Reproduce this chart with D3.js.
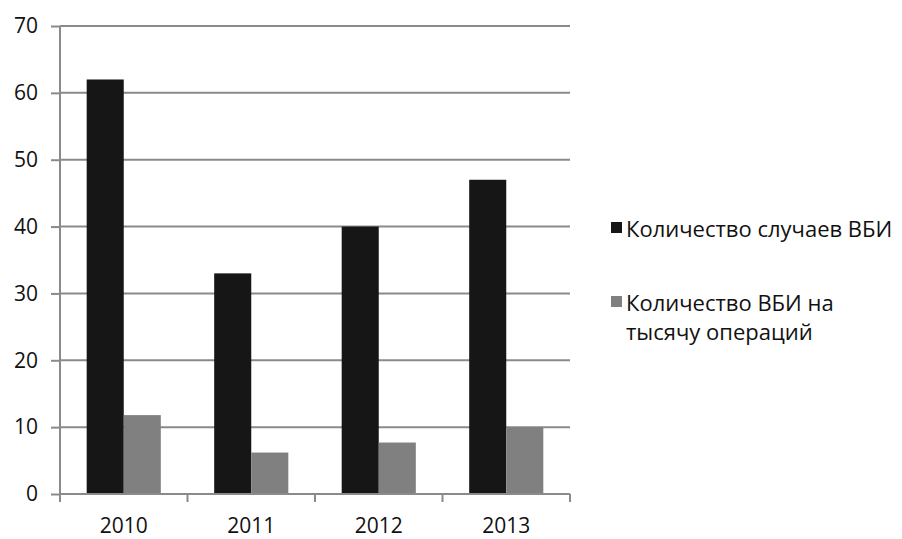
<!DOCTYPE html>
<html>
<head>
<meta charset="utf-8">
<script src="https://cdn.jsdelivr.net/npm/d3@7"></script>
<style>
  body { margin: 0; background: #fff; }
  svg { display: block; }
  text { font-family: "Open Sans", "DejaVu Sans", sans-serif; fill: #111; }
</style>
</head>
<body>
<svg id="chart" width="902" height="539"></svg>
<script>
// Years on the category axis
const years = ["2010", "2011", "2012", "2013"];
// Number of infection cases per year
const cases = [62, 33, 40, 47];
// Infections per thousand operations
const perThousand = [11.8, 6.2, 7.7, 10];
// Legend entries (second one wraps on two lines)
const seriesNames = [["Количество случаев ВБИ"], ["Количество ВБИ на", "тысячу операций"]];
const seriesColors = ["#161616", "#808080"];
const yTicks = [0, 10, 20, 30, 40, 50, 60, 70];

const svg = d3.select("#chart");
const margin = { left: 60, right: 332, top: 26, bottom: 45 };
const W = 902, H = 539;

const x = d3.scaleBand().domain(years).range([margin.left, W - margin.right]).paddingInner(0).paddingOuter(0);
// two bars per year, together about 58% of the category width, centred
const inner = d3.scaleBand().domain([0, 1]).range([0, x.bandwidth()]).paddingOuter(0.72).paddingInner(0);
const y = d3.scaleLinear().domain([0, 70]).range([H - margin.bottom, margin.top]);

// Horizontal grid lines
svg.append("g")
  .selectAll("line")
  .data(yTicks.filter(d => d > 0))
  .join("line")
  .attr("x1", margin.left).attr("x2", W - margin.right)
  .attr("y1", d => y(d)).attr("y2", d => y(d))
  .attr("stroke", "#8a8a8a").attr("stroke-width", 2);

// Bars
const series = [cases, perThousand];
series.forEach((vals, si) => {
  svg.append("g")
    .selectAll("rect")
    .data(vals)
    .join("rect")
    .attr("x", (d, i) => x(years[i]) + inner(si))
    .attr("width", inner.bandwidth())
    .attr("y", d => y(d))
    .attr("height", d => y(0) - y(d))
    .attr("fill", seriesColors[si]);
});

// Y axis
const yAxis = svg.append("g")
  .attr("transform", `translate(${margin.left},0)`)
  .call(d3.axisLeft(y).tickValues(yTicks).tickSize(9).tickPadding(13).tickFormat(d3.format("d")));
yAxis.select(".domain").attr("stroke", "#8a8a8a").attr("stroke-width", 2).attr("d", `M0,${y(70)}V${y(0)}`);
yAxis.selectAll(".tick line").attr("stroke", "#8a8a8a").attr("stroke-width", 2);
yAxis.selectAll(".tick text").style("font-size", "21px").attr("fill", "#111");

// X axis with ticks at category boundaries
const xAxis = svg.append("g")
  .attr("transform", `translate(0,${y(0)})`)
  .call(d3.axisBottom(x).tickSize(0).tickPadding(24));
xAxis.select(".domain").attr("stroke", "#8a8a8a").attr("stroke-width", 2).attr("d", `M${margin.left},0H${W - margin.right}`);
xAxis.selectAll(".tick text").style("font-size", "21px").attr("fill", "#111");
const bounds = years.map(d => x(d)).concat([x(years[years.length - 1]) + x.bandwidth()]);
xAxis.append("g").selectAll("line")
  .data(bounds)
  .join("line")
  .attr("x1", d => d).attr("x2", d => d)
  .attr("y1", 0).attr("y2", 8)
  .attr("stroke", "#8a8a8a").attr("stroke-width", 2);

// Legend
const legendY = [222, 296];
const legend = svg.append("g");
seriesNames.forEach((lines, i) => {
  legend.append("rect")
    .attr("x", 611).attr("y", legendY[i])
    .attr("width", 11).attr("height", 11)
    .attr("fill", seriesColors[i]);
  lines.forEach((ln, j) => {
    legend.append("text")
      .attr("x", 626).attr("y", legendY[i] + 15 + j * 29)
      .style("font-size", "22px")
      .text(ln);
  });
});
</script>
</body>
</html>
